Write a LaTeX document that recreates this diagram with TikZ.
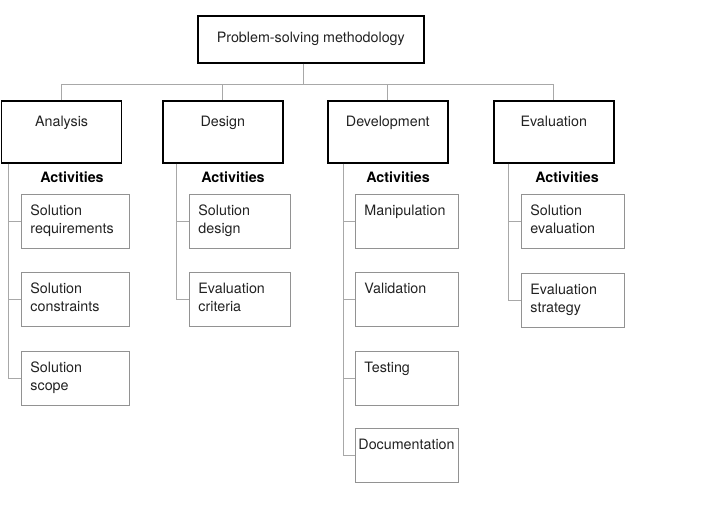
\documentclass[tikz,border=0pt]{standalone}
\usepackage{fontspec}
\setmainfont{TeX Gyre Heros}
\usetikzlibrary{calc}
\definecolor{linegray}{HTML}{A8A8A8}
\definecolor{boxgray}{HTML}{929292}
\definecolor{txt}{HTML}{222222}
\newcommand{\toptext}[3]{\parbox[c][#1][t]{#2}{\centering\rule{0pt}{26pt}#3}}
\newcommand{\subtext}[3]{\parbox[c][#1][t]{#2}{\raggedright\rule{0pt}{21pt}#3}}
\begin{document}
\begin{tikzpicture}[x=1pt,y=-1pt,
  font=\fontsize{14.3}{18}\selectfont, text=txt,
  mainbox/.style={draw=black, line width=1.6pt, inner sep=0pt, anchor=north west},
  subbox/.style={draw=boxgray, line width=0.9pt, inner ysep=0pt, inner xsep=9pt, anchor=north west},
  conn/.style={draw=linegray, line width=0.9pt},
  acts/.style={font=\fontsize{14.3}{18}\selectfont\bfseries, text=black, anchor=base, inner sep=0pt}]
\useasboundingbox (0,0) rectangle (703,504);

% top box
\node[mainbox, minimum width=226pt, minimum height=47pt] (top) at (197,15) {Problem-solving methodology};

% level-1 boxes
\node[mainbox] (an) at (0.8,100) {\toptext{62pt}{120pt}{Analysis}};
\node[mainbox] (de) at (162,100) {\toptext{62pt}{120pt}{Design}};
\node[mainbox] (dv) at (327,100) {\toptext{62pt}{120pt}{Development}};
\node[mainbox] (ev) at (493,100) {\toptext{62pt}{120pt}{Evaluation}};

% bus
\coordinate (topout) at ($(top.south)+(-7,0)$);
\coordinate (bus) at ($(topout)+(0,21)$);
\draw[conn] (topout) -- (bus);
\draw[conn] (an.north) -- (an.north |- bus) -- (ev.north |- bus) -- (ev.north);
\draw[conn] (de.north) -- (de.north |- bus);
\draw[conn] (dv.north) -- (dv.north |- bus);

% activities labels
\node[acts] (aact) at (72,182) {Activities};
\node[acts] (dact) at (233,182) {Activities};
\node[acts] (vact) at (398,182) {Activities};
\node[acts] (eact) at (567,182) {Activities};

% Analysis children
\node[subbox] (a1) at (21,194) {\subtext{54pt}{90pt}{Solution\\requirements}};
\node[subbox] (a2) at (21,272) {\subtext{54pt}{90pt}{Solution\\constraints}};
\node[subbox] (a3) at (21,351) {\subtext{54pt}{90pt}{Solution\\scope}};

% Design children
\node[subbox] (d1) at (189,194) {\subtext{54pt}{83pt}{Solution\\design}};
\node[subbox] (d2) at (189,272) {\subtext{54pt}{83pt}{Evaluation\\criteria}};

% Development children
\node[subbox] (v1) at (355,194) {\subtext{54pt}{85pt}{Manipulation}};
\node[subbox] (v2) at (355,272) {\subtext{54pt}{85pt}{Validation}};
\node[subbox] (v3) at (355,351) {\subtext{54pt}{85pt}{Testing}};
\node[subbox, inner xsep=3pt] (v4) at (355,428) {\subtext{54pt}{97pt}{Documentation}};

% Evaluation children
\node[subbox] (e1) at (521,194) {\subtext{54pt}{85pt}{Solution\\evaluation}};
\node[subbox] (e2) at (521,273) {\subtext{54pt}{85pt}{Evaluation\\strategy}};

% trunks and branches
\coordinate (at) at ($(an.south west)+(7.4,0)$);
\draw[conn] (at) |- (a3.west);
\draw[conn] (a1.west) -- (a1.west -| at);
\draw[conn] (a2.west) -- (a2.west -| at);

\coordinate (dt) at ($(de.south west)+(14,0)$);
\draw[conn] (dt) |- (d2.west);
\draw[conn] (d1.west) -- (d1.west -| dt);

\coordinate (vt) at ($(dv.south west)+(16,0)$);
\draw[conn] (vt) |- (v4.west);
\draw[conn] (v1.west) -- (v1.west -| vt);
\draw[conn] (v2.west) -- (v2.west -| vt);
\draw[conn] (v3.west) -- (v3.west -| vt);

\coordinate (et) at ($(ev.south west)+(15,0)$);
\draw[conn] (et) |- (e2.west);
\draw[conn] (e1.west) -- (e1.west -| et);
\end{tikzpicture}
\end{document}
